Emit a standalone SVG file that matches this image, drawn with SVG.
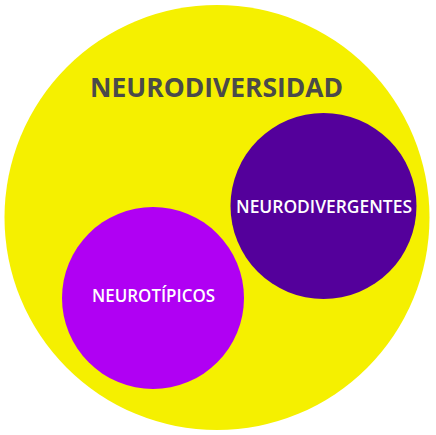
<svg xmlns="http://www.w3.org/2000/svg" width="436" height="435" viewBox="0 0 436 435">
  <style>
    .t { font-family: "Open Sans", "Liberation Sans", sans-serif; font-weight: 700; text-anchor: middle; }
    .w { fill: #ffffff; font-size: 17.5px; font-weight: 600; }
  </style>
  <rect width="436" height="435" fill="#ffffff"/>
  <g id="neurodiversidad">
    <circle cx="217" cy="217.5" r="212.5" fill="#f5f000"/>
    <text class="t" x="216.5" y="97" font-size="26" fill="#4a4a4a" textLength="253" lengthAdjust="spacingAndGlyphs">NEURODIVERSIDAD</text>
  </g>
  <g id="neurodivergentes">
    <circle cx="323.5" cy="206" r="93" fill="#54009b"/>
    <text class="t w" x="324" y="213.3" textLength="176" lengthAdjust="spacingAndGlyphs">NEURODIVERGENTES</text>
  </g>
  <g id="neurotipicos">
    <circle cx="153" cy="298" r="91" fill="#b000f3"/>
    <text class="t w" x="153.5" y="301.7" textLength="123" lengthAdjust="spacingAndGlyphs">NEUROTÍPICOS</text>
  </g>
  <g id="connectors"/>
</svg>
